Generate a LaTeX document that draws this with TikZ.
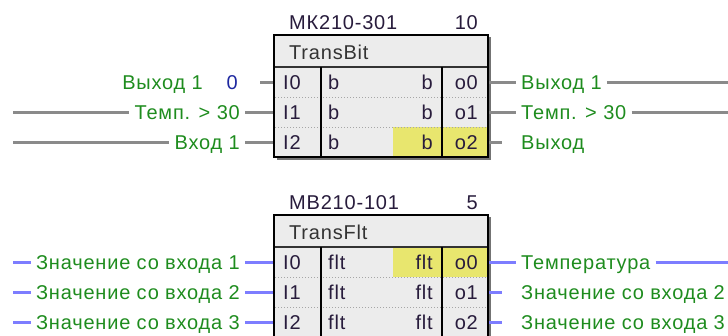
\documentclass[tikz,border=0pt]{standalone}
\usepackage{fontspec}
\setmainfont[LetterSpace=4]{Liberation Sans}
\definecolor{lbl}{RGB}{30,140,30}
\definecolor{wireg}{RGB}{138,138,138}
\definecolor{wireb}{RGB}{125,125,255}
\definecolor{blkfill}{RGB}{236,236,236}
\definecolor{hl}{RGB}{232,230,110}
\definecolor{blktxt}{RGB}{40,28,60}
\definecolor{constc}{RGB}{30,40,160}
\tikzset{
  fnt/.style={font=\fontsize{20}{24}\selectfont, text height=14.3pt, text depth=0pt},
  lbltext/.style={fnt, text=lbl, inner xsep=5pt, inner ysep=0pt},
  celltext/.style={fnt, text=blktxt, inner sep=0pt},
  wiregray/.style={draw=wireg, line width=3pt},
  wireblue/.style={draw=wireb, line width=3pt},
}
% #1 y shift, #2 prefix, #3 title, #4 number, #5 type, #6 abbrev, #7 highlight row
\newcommand{\fbblock}[7]{%
\begin{scope}[shift={(0,#1)}]
  \fill[black!55] (276.5,37) rectangle (490.5,159.5);
  \node[fill=blkfill, minimum width=214pt, minimum height=122pt, inner sep=0pt, anchor=north west] (#2) at (274,35) {};
  \fill[hl] (393,{67+30*#7}) rectangle (487,{97+30*#7});
  \draw[black!35, dotted, line width=1pt] (275,97) -- (487,97) (275,127) -- (487,127);
  \draw[black!80, line width=1.5pt] (274,67) -- (488,67);
  \draw[black, line width=1.2pt] (321,67) -- (321,158) (442,67) -- (442,158);
  \draw[black, line width=2pt] (274,35) rectangle (488,157);
  \node[celltext, anchor=west] (#2title) at (289,22) {#3};
  \node[celltext, anchor=east] (#2num) at (478,22) {#4};
  \node[celltext, anchor=west, text=black!80] (#2type) at (289,52) {#5};
  \foreach \r in {0,1,2}{
    \node[celltext, anchor=west] (#2in\r) at (283,{82+30*\r}) {I\r};
    \node[celltext, anchor=west] (#2ta\r) at (328,{82+30*\r}) {#6};
    \node[celltext, anchor=east] (#2tb\r) at (433,{82+30*\r}) {#6};
    \node[celltext, anchor=east] (#2out\r) at (478,{82+30*\r}) {o\r};
    \coordinate (#2i\r) at (273,{82+30*\r});
    \coordinate (#2o\r) at (489,{82+30*\r});
  }
\end{scope}}
\begin{document}
\begin{tikzpicture}[x=1pt,y=-1pt]
\useasboundingbox (0,0) rectangle (728,335);
\clip (0,0) rectangle (728,335);

\fbblock{0}{A}{МК210-301}{10}{TransBit}{b}{2}
\fbblock{180}{B}{МВ210-101}{5}{TransFlt}{flt}{0}

% ---- top block, inputs
\node[lbltext, anchor=east] (Al0) at (208,82) {Выход 1};
\node[fnt, text=constc, inner xsep=0pt, inner ysep=0pt, anchor=east] (Ac0) at (238,82) {0};
\coordinate (Ap0) at (260,82);
\draw[wiregray] (Ap0) -- (Ai0);
\coordinate (As1) at (13,112);
\node[lbltext, anchor=east] (Al1) at (245,112) {Темп. > 30};
\draw[wiregray] (As1) -- (Al1.west) (Al1.east) -- (Ai1);
\coordinate (As2) at (13,142);
\node[lbltext, anchor=east] (Al2) at (245,142) {Вход 1};
\draw[wiregray] (As2) -- (Al2.west) (Al2.east) -- (Ai2);

% ---- top block, outputs
\node[lbltext, anchor=west] (Ar0) at (516,82) {Выход 1};
\coordinate (Ae0) at (730,82);
\draw[wiregray] (Ao0) -- (Ar0.west) (Ar0.east) -- (Ae0);
\node[lbltext, anchor=west] (Ar1) at (516,112) {Темп. > 30};
\coordinate (Ae1) at (730,112);
\draw[wiregray] (Ao1) -- (Ar1.west) (Ar1.east) -- (Ae1);
\coordinate (Ap2) at (502,142);
\node[lbltext, anchor=west] (Ar2) at (516,142) {Выход};
\draw[wiregray] (Ao2) -- (Ap2);

% ---- bottom block, inputs
\foreach \r/\t in {0/1,1/2,2/3}{
  \coordinate (Bs\r) at (13,{262+30*\r});
  \node[lbltext, anchor=east] (Bl\r) at (245,{262+30*\r}) {Значение со входа \t};
  \draw[wireblue] (Bs\r) -- (Bl\r.west) (Bl\r.east) -- (Bi\r);
}

% ---- bottom block, outputs
\node[lbltext, anchor=west] (Br0) at (516,262) {Температура};
\coordinate (Be0) at (730,262);
\draw[wireblue] (Bo0) -- (Br0.west) (Br0.east) -- (Be0);
\foreach \r/\t in {1/2,2/3}{
  \coordinate (Bp\r) at (502,{262+30*\r});
  \node[lbltext, anchor=west] (Br\r) at (516,{262+30*\r}) {Значение со входа \t};
  \draw[wireblue] (Bo\r) -- (Bp\r);
}
\end{tikzpicture}
\end{document}
